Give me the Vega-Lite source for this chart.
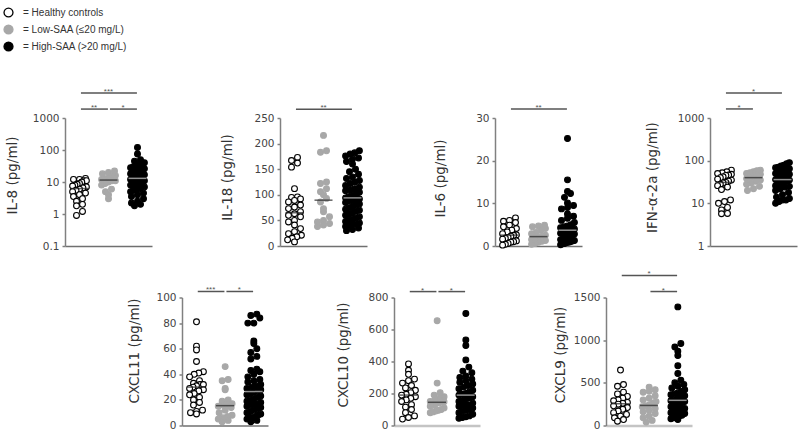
{
  "$schema": "https://vega.github.io/schema/vega-lite/v6.json",
  "background": "white",
  "padding": {"left": 3, "top": 7, "right": 2, "bottom": 2},
  "datasets": {
    "groups": [
      {"g": "HC", "group": "Healthy controls"},
      {"g": "Low", "group": "Low-SAA (≤20 mg/L)"},
      {"g": "High", "group": "High-SAA (>20 mg/L)"}
    ],
    "cyt": [
      {"c":"IL-8","g":"HC","v":13},{"c":"IL-8","g":"HC","v":12},{"c":"IL-8","g":"HC","v":12},{"c":"IL-8","g":"HC","v":11},{"c":"IL-8","g":"HC","v":11},{"c":"IL-8","g":"HC","v":10},{"c":"IL-8","g":"HC","v":9},{"c":"IL-8","g":"HC","v":8.5},{"c":"IL-8","g":"HC","v":8},{"c":"IL-8","g":"HC","v":7.5},{"c":"IL-8","g":"HC","v":7},{"c":"IL-8","g":"HC","v":6.5},{"c":"IL-8","g":"HC","v":6},{"c":"IL-8","g":"HC","v":5.5},{"c":"IL-8","g":"HC","v":5},{"c":"IL-8","g":"HC","v":4.5},{"c":"IL-8","g":"HC","v":4},{"c":"IL-8","g":"HC","v":3.5},{"c":"IL-8","g":"HC","v":3},{"c":"IL-8","g":"HC","v":2.5},{"c":"IL-8","g":"HC","v":2},{"c":"IL-8","g":"HC","v":1.8},{"c":"IL-8","g":"HC","v":1.2},{"c":"IL-8","g":"HC","v":0.9},
      {"c":"IL-8","g":"Low","v":22},{"c":"IL-8","g":"Low","v":20},{"c":"IL-8","g":"Low","v":18},{"c":"IL-8","g":"Low","v":16},{"c":"IL-8","g":"Low","v":15},{"c":"IL-8","g":"Low","v":14},{"c":"IL-8","g":"Low","v":13},{"c":"IL-8","g":"Low","v":12},{"c":"IL-8","g":"Low","v":12},{"c":"IL-8","g":"Low","v":11},{"c":"IL-8","g":"Low","v":11},{"c":"IL-8","g":"Low","v":10},{"c":"IL-8","g":"Low","v":9},{"c":"IL-8","g":"Low","v":8},{"c":"IL-8","g":"Low","v":6},{"c":"IL-8","g":"Low","v":5},{"c":"IL-8","g":"Low","v":4},{"c":"IL-8","g":"Low","v":3},
      {"c":"IL-8","g":"High","v":120},{"c":"IL-8","g":"High","v":75},{"c":"IL-8","g":"High","v":50},{"c":"IL-8","g":"High","v":45},{"c":"IL-8","g":"High","v":40},{"c":"IL-8","g":"High","v":38},{"c":"IL-8","g":"High","v":35},{"c":"IL-8","g":"High","v":32},{"c":"IL-8","g":"High","v":30},{"c":"IL-8","g":"High","v":28},{"c":"IL-8","g":"High","v":26},{"c":"IL-8","g":"High","v":25},{"c":"IL-8","g":"High","v":24},{"c":"IL-8","g":"High","v":22},{"c":"IL-8","g":"High","v":21},{"c":"IL-8","g":"High","v":20},{"c":"IL-8","g":"High","v":19},{"c":"IL-8","g":"High","v":18},{"c":"IL-8","g":"High","v":17},{"c":"IL-8","g":"High","v":16},{"c":"IL-8","g":"High","v":15},{"c":"IL-8","g":"High","v":15},{"c":"IL-8","g":"High","v":14},{"c":"IL-8","g":"High","v":13},{"c":"IL-8","g":"High","v":13},{"c":"IL-8","g":"High","v":12},{"c":"IL-8","g":"High","v":12},{"c":"IL-8","g":"High","v":11},{"c":"IL-8","g":"High","v":11},{"c":"IL-8","g":"High","v":10},{"c":"IL-8","g":"High","v":10},{"c":"IL-8","g":"High","v":9},{"c":"IL-8","g":"High","v":9},{"c":"IL-8","g":"High","v":8},{"c":"IL-8","g":"High","v":8},{"c":"IL-8","g":"High","v":7},{"c":"IL-8","g":"High","v":7},{"c":"IL-8","g":"High","v":6},{"c":"IL-8","g":"High","v":6},{"c":"IL-8","g":"High","v":5.5},{"c":"IL-8","g":"High","v":5},{"c":"IL-8","g":"High","v":4.5},{"c":"IL-8","g":"High","v":4},{"c":"IL-8","g":"High","v":3.5},{"c":"IL-8","g":"High","v":3},{"c":"IL-8","g":"High","v":2.5},{"c":"IL-8","g":"High","v":2.2},{"c":"IL-8","g":"High","v":2},{"c":"IL-8","g":"High","v":1.8},
      {"c":"IL-18","g":"HC","v":173},{"c":"IL-18","g":"HC","v":167},{"c":"IL-18","g":"HC","v":162},{"c":"IL-18","g":"HC","v":154},{"c":"IL-18","g":"HC","v":112},{"c":"IL-18","g":"HC","v":96},{"c":"IL-18","g":"HC","v":95},{"c":"IL-18","g":"HC","v":92},{"c":"IL-18","g":"HC","v":89},{"c":"IL-18","g":"HC","v":86},{"c":"IL-18","g":"HC","v":80},{"c":"IL-18","g":"HC","v":76},{"c":"IL-18","g":"HC","v":73},{"c":"IL-18","g":"HC","v":67},{"c":"IL-18","g":"HC","v":63},{"c":"IL-18","g":"HC","v":60},{"c":"IL-18","g":"HC","v":57},{"c":"IL-18","g":"HC","v":50},{"c":"IL-18","g":"HC","v":47},{"c":"IL-18","g":"HC","v":41},{"c":"IL-18","g":"HC","v":34},{"c":"IL-18","g":"HC","v":28},{"c":"IL-18","g":"HC","v":24},{"c":"IL-18","g":"HC","v":21},{"c":"IL-18","g":"HC","v":18},{"c":"IL-18","g":"HC","v":15},{"c":"IL-18","g":"HC","v":12},{"c":"IL-18","g":"HC","v":8},
      {"c":"IL-18","g":"Low","v":216},{"c":"IL-18","g":"Low","v":186},{"c":"IL-18","g":"Low","v":183},{"c":"IL-18","g":"Low","v":125},{"c":"IL-18","g":"Low","v":122},{"c":"IL-18","g":"Low","v":112},{"c":"IL-18","g":"Low","v":106},{"c":"IL-18","g":"Low","v":100},{"c":"IL-18","g":"Low","v":93},{"c":"IL-18","g":"Low","v":86},{"c":"IL-18","g":"Low","v":73},{"c":"IL-18","g":"Low","v":67},{"c":"IL-18","g":"Low","v":57},{"c":"IL-18","g":"Low","v":50},{"c":"IL-18","g":"Low","v":47},{"c":"IL-18","g":"Low","v":44},{"c":"IL-18","g":"Low","v":41},{"c":"IL-18","g":"Low","v":38},
      {"c":"IL-18","g":"High","v":186},{"c":"IL-18","g":"High","v":182},{"c":"IL-18","g":"High","v":180},{"c":"IL-18","g":"High","v":176},{"c":"IL-18","g":"High","v":172},{"c":"IL-18","g":"High","v":170},{"c":"IL-18","g":"High","v":165},{"c":"IL-18","g":"High","v":160},{"c":"IL-18","g":"High","v":150},{"c":"IL-18","g":"High","v":145},{"c":"IL-18","g":"High","v":140},{"c":"IL-18","g":"High","v":135},{"c":"IL-18","g":"High","v":132},{"c":"IL-18","g":"High","v":128},{"c":"IL-18","g":"High","v":125},{"c":"IL-18","g":"High","v":122},{"c":"IL-18","g":"High","v":118},{"c":"IL-18","g":"High","v":115},{"c":"IL-18","g":"High","v":112},{"c":"IL-18","g":"High","v":110},{"c":"IL-18","g":"High","v":108},{"c":"IL-18","g":"High","v":105},{"c":"IL-18","g":"High","v":102},{"c":"IL-18","g":"High","v":100},{"c":"IL-18","g":"High","v":98},{"c":"IL-18","g":"High","v":96},{"c":"IL-18","g":"High","v":94},{"c":"IL-18","g":"High","v":92},{"c":"IL-18","g":"High","v":90},{"c":"IL-18","g":"High","v":88},{"c":"IL-18","g":"High","v":85},{"c":"IL-18","g":"High","v":82},{"c":"IL-18","g":"High","v":80},{"c":"IL-18","g":"High","v":77},{"c":"IL-18","g":"High","v":75},{"c":"IL-18","g":"High","v":72},{"c":"IL-18","g":"High","v":70},{"c":"IL-18","g":"High","v":68},{"c":"IL-18","g":"High","v":65},{"c":"IL-18","g":"High","v":62},{"c":"IL-18","g":"High","v":60},{"c":"IL-18","g":"High","v":57},{"c":"IL-18","g":"High","v":55},{"c":"IL-18","g":"High","v":52},{"c":"IL-18","g":"High","v":50},{"c":"IL-18","g":"High","v":48},{"c":"IL-18","g":"High","v":45},{"c":"IL-18","g":"High","v":43},{"c":"IL-18","g":"High","v":40},{"c":"IL-18","g":"High","v":38},{"c":"IL-18","g":"High","v":35},{"c":"IL-18","g":"High","v":32},{"c":"IL-18","g":"High","v":30},
      {"c":"IL-6","g":"HC","v":6.6},{"c":"IL-6","g":"HC","v":6.0},{"c":"IL-6","g":"HC","v":5.8},{"c":"IL-6","g":"HC","v":5.5},{"c":"IL-6","g":"HC","v":4.9},{"c":"IL-6","g":"HC","v":4.5},{"c":"IL-6","g":"HC","v":4.1},{"c":"IL-6","g":"HC","v":3.7},{"c":"IL-6","g":"HC","v":3.3},{"c":"IL-6","g":"HC","v":2.9},{"c":"IL-6","g":"HC","v":2.6},{"c":"IL-6","g":"HC","v":2.5},{"c":"IL-6","g":"HC","v":2.3},{"c":"IL-6","g":"HC","v":2.0},{"c":"IL-6","g":"HC","v":1.8},{"c":"IL-6","g":"HC","v":1.6},{"c":"IL-6","g":"HC","v":1.2},{"c":"IL-6","g":"HC","v":1.0},{"c":"IL-6","g":"HC","v":0.9},{"c":"IL-6","g":"HC","v":0.6},{"c":"IL-6","g":"HC","v":0.4},{"c":"IL-6","g":"HC","v":0.2},
      {"c":"IL-6","g":"Low","v":4.9},{"c":"IL-6","g":"Low","v":4.7},{"c":"IL-6","g":"Low","v":4.5},{"c":"IL-6","g":"Low","v":4.1},{"c":"IL-6","g":"Low","v":3.7},{"c":"IL-6","g":"Low","v":3.2},{"c":"IL-6","g":"Low","v":2.9},{"c":"IL-6","g":"Low","v":2.5},{"c":"IL-6","g":"Low","v":2.3},{"c":"IL-6","g":"Low","v":2.1},{"c":"IL-6","g":"Low","v":2.0},{"c":"IL-6","g":"Low","v":1.8},{"c":"IL-6","g":"Low","v":1.5},{"c":"IL-6","g":"Low","v":1.3},{"c":"IL-6","g":"Low","v":1.1},{"c":"IL-6","g":"Low","v":0.9},{"c":"IL-6","g":"Low","v":0.6},{"c":"IL-6","g":"Low","v":0.4},
      {"c":"IL-6","g":"High","v":25.2},{"c":"IL-6","g":"High","v":15.5},{"c":"IL-6","g":"High","v":12.8},{"c":"IL-6","g":"High","v":12.3},{"c":"IL-6","g":"High","v":11.4},{"c":"IL-6","g":"High","v":10.1},{"c":"IL-6","g":"High","v":9.5},{"c":"IL-6","g":"High","v":9.0},{"c":"IL-6","g":"High","v":8.7},{"c":"IL-6","g":"High","v":7.5},{"c":"IL-6","g":"High","v":7.0},{"c":"IL-6","g":"High","v":6.5},{"c":"IL-6","g":"High","v":6.0},{"c":"IL-6","g":"High","v":5.5},{"c":"IL-6","g":"High","v":5.0},{"c":"IL-6","g":"High","v":4.7},{"c":"IL-6","g":"High","v":4.5},{"c":"IL-6","g":"High","v":4.3},{"c":"IL-6","g":"High","v":4.0},{"c":"IL-6","g":"High","v":3.7},{"c":"IL-6","g":"High","v":3.5},{"c":"IL-6","g":"High","v":3.2},{"c":"IL-6","g":"High","v":3.0},{"c":"IL-6","g":"High","v":2.8},{"c":"IL-6","g":"High","v":2.5},{"c":"IL-6","g":"High","v":2.3},{"c":"IL-6","g":"High","v":2.1},{"c":"IL-6","g":"High","v":2.0},{"c":"IL-6","g":"High","v":1.8},{"c":"IL-6","g":"High","v":1.6},{"c":"IL-6","g":"High","v":1.5},{"c":"IL-6","g":"High","v":1.3},{"c":"IL-6","g":"High","v":1.2},{"c":"IL-6","g":"High","v":1.0},{"c":"IL-6","g":"High","v":0.9},{"c":"IL-6","g":"High","v":0.8},{"c":"IL-6","g":"High","v":0.6},{"c":"IL-6","g":"High","v":0.5},{"c":"IL-6","g":"High","v":0.3},
      {"c":"IFN","g":"HC","v":60},{"c":"IFN","g":"HC","v":55},{"c":"IFN","g":"HC","v":52},{"c":"IFN","g":"HC","v":50},{"c":"IFN","g":"HC","v":48},{"c":"IFN","g":"HC","v":46},{"c":"IFN","g":"HC","v":45},{"c":"IFN","g":"HC","v":42},{"c":"IFN","g":"HC","v":40},{"c":"IFN","g":"HC","v":37},{"c":"IFN","g":"HC","v":35},{"c":"IFN","g":"HC","v":33},{"c":"IFN","g":"HC","v":31},{"c":"IFN","g":"HC","v":30},{"c":"IFN","g":"HC","v":28},{"c":"IFN","g":"HC","v":26},{"c":"IFN","g":"HC","v":24},{"c":"IFN","g":"HC","v":21},{"c":"IFN","g":"HC","v":12},{"c":"IFN","g":"HC","v":11},{"c":"IFN","g":"HC","v":10},{"c":"IFN","g":"HC","v":8},{"c":"IFN","g":"HC","v":7},{"c":"IFN","g":"HC","v":5.8},{"c":"IFN","g":"HC","v":5.7},
      {"c":"IFN","g":"Low","v":60},{"c":"IFN","g":"Low","v":58},{"c":"IFN","g":"Low","v":55},{"c":"IFN","g":"Low","v":52},{"c":"IFN","g":"Low","v":50},{"c":"IFN","g":"Low","v":48},{"c":"IFN","g":"Low","v":45},{"c":"IFN","g":"Low","v":42},{"c":"IFN","g":"Low","v":40},{"c":"IFN","g":"Low","v":38},{"c":"IFN","g":"Low","v":35},{"c":"IFN","g":"Low","v":33},{"c":"IFN","g":"Low","v":30},{"c":"IFN","g":"Low","v":28},{"c":"IFN","g":"Low","v":25},{"c":"IFN","g":"Low","v":22},{"c":"IFN","g":"Low","v":20},
      {"c":"IFN","g":"High","v":90},{"c":"IFN","g":"High","v":85},{"c":"IFN","g":"High","v":78},{"c":"IFN","g":"High","v":75},{"c":"IFN","g":"High","v":70},{"c":"IFN","g":"High","v":68},{"c":"IFN","g":"High","v":65},{"c":"IFN","g":"High","v":62},{"c":"IFN","g":"High","v":60},{"c":"IFN","g":"High","v":58},{"c":"IFN","g":"High","v":55},{"c":"IFN","g":"High","v":52},{"c":"IFN","g":"High","v":50},{"c":"IFN","g":"High","v":48},{"c":"IFN","g":"High","v":46},{"c":"IFN","g":"High","v":45},{"c":"IFN","g":"High","v":43},{"c":"IFN","g":"High","v":42},{"c":"IFN","g":"High","v":40},{"c":"IFN","g":"High","v":38},{"c":"IFN","g":"High","v":37},{"c":"IFN","g":"High","v":36},{"c":"IFN","g":"High","v":35},{"c":"IFN","g":"High","v":34},{"c":"IFN","g":"High","v":33},{"c":"IFN","g":"High","v":32},{"c":"IFN","g":"High","v":30},{"c":"IFN","g":"High","v":29},{"c":"IFN","g":"High","v":28},{"c":"IFN","g":"High","v":27},{"c":"IFN","g":"High","v":26},{"c":"IFN","g":"High","v":25},{"c":"IFN","g":"High","v":24},{"c":"IFN","g":"High","v":22},{"c":"IFN","g":"High","v":20},{"c":"IFN","g":"High","v":18},{"c":"IFN","g":"High","v":16},{"c":"IFN","g":"High","v":14},{"c":"IFN","g":"High","v":13},{"c":"IFN","g":"High","v":12},{"c":"IFN","g":"High","v":12},{"c":"IFN","g":"High","v":11},{"c":"IFN","g":"High","v":10},
      {"c":"CXCL11","g":"HC","v":81},{"c":"CXCL11","g":"HC","v":62},{"c":"CXCL11","g":"HC","v":59},{"c":"CXCL11","g":"HC","v":50},{"c":"CXCL11","g":"HC","v":42},{"c":"CXCL11","g":"HC","v":41},{"c":"CXCL11","g":"HC","v":40},{"c":"CXCL11","g":"HC","v":38},{"c":"CXCL11","g":"HC","v":35},{"c":"CXCL11","g":"HC","v":33},{"c":"CXCL11","g":"HC","v":32},{"c":"CXCL11","g":"HC","v":32},{"c":"CXCL11","g":"HC","v":31},{"c":"CXCL11","g":"HC","v":30},{"c":"CXCL11","g":"HC","v":29},{"c":"CXCL11","g":"HC","v":28},{"c":"CXCL11","g":"HC","v":27},{"c":"CXCL11","g":"HC","v":25},{"c":"CXCL11","g":"HC","v":24},{"c":"CXCL11","g":"HC","v":22},{"c":"CXCL11","g":"HC","v":20},{"c":"CXCL11","g":"HC","v":18},{"c":"CXCL11","g":"HC","v":16},{"c":"CXCL11","g":"HC","v":12},{"c":"CXCL11","g":"HC","v":11},{"c":"CXCL11","g":"HC","v":10},{"c":"CXCL11","g":"HC","v":9},
      {"c":"CXCL11","g":"Low","v":46},{"c":"CXCL11","g":"Low","v":36},{"c":"CXCL11","g":"Low","v":35},{"c":"CXCL11","g":"Low","v":29},{"c":"CXCL11","g":"Low","v":28},{"c":"CXCL11","g":"Low","v":20},{"c":"CXCL11","g":"Low","v":19},{"c":"CXCL11","g":"Low","v":17},{"c":"CXCL11","g":"Low","v":16},{"c":"CXCL11","g":"Low","v":16},{"c":"CXCL11","g":"Low","v":15},{"c":"CXCL11","g":"Low","v":14},{"c":"CXCL11","g":"Low","v":12},{"c":"CXCL11","g":"Low","v":10},{"c":"CXCL11","g":"Low","v":8},{"c":"CXCL11","g":"Low","v":7},{"c":"CXCL11","g":"Low","v":6},{"c":"CXCL11","g":"Low","v":5},{"c":"CXCL11","g":"Low","v":4},{"c":"CXCL11","g":"Low","v":3},
      {"c":"CXCL11","g":"High","v":87},{"c":"CXCL11","g":"High","v":86},{"c":"CXCL11","g":"High","v":84},{"c":"CXCL11","g":"High","v":80},{"c":"CXCL11","g":"High","v":80},{"c":"CXCL11","g":"High","v":66},{"c":"CXCL11","g":"High","v":64},{"c":"CXCL11","g":"High","v":60},{"c":"CXCL11","g":"High","v":57},{"c":"CXCL11","g":"High","v":54},{"c":"CXCL11","g":"High","v":52},{"c":"CXCL11","g":"High","v":44},{"c":"CXCL11","g":"High","v":43},{"c":"CXCL11","g":"High","v":42},{"c":"CXCL11","g":"High","v":40},{"c":"CXCL11","g":"High","v":38},{"c":"CXCL11","g":"High","v":36},{"c":"CXCL11","g":"High","v":35},{"c":"CXCL11","g":"High","v":34},{"c":"CXCL11","g":"High","v":32},{"c":"CXCL11","g":"High","v":31},{"c":"CXCL11","g":"High","v":30},{"c":"CXCL11","g":"High","v":29},{"c":"CXCL11","g":"High","v":28},{"c":"CXCL11","g":"High","v":27},{"c":"CXCL11","g":"High","v":26},{"c":"CXCL11","g":"High","v":25},{"c":"CXCL11","g":"High","v":24},{"c":"CXCL11","g":"High","v":23},{"c":"CXCL11","g":"High","v":22},{"c":"CXCL11","g":"High","v":21},{"c":"CXCL11","g":"High","v":20},{"c":"CXCL11","g":"High","v":19},{"c":"CXCL11","g":"High","v":18},{"c":"CXCL11","g":"High","v":17},{"c":"CXCL11","g":"High","v":16},{"c":"CXCL11","g":"High","v":15},{"c":"CXCL11","g":"High","v":14},{"c":"CXCL11","g":"High","v":13},{"c":"CXCL11","g":"High","v":12},{"c":"CXCL11","g":"High","v":11},{"c":"CXCL11","g":"High","v":10},{"c":"CXCL11","g":"High","v":9},{"c":"CXCL11","g":"High","v":8},{"c":"CXCL11","g":"High","v":7},{"c":"CXCL11","g":"High","v":6},{"c":"CXCL11","g":"High","v":6},{"c":"CXCL11","g":"High","v":5},{"c":"CXCL11","g":"High","v":4},{"c":"CXCL11","g":"High","v":3},
      {"c":"CXCL10","g":"HC","v":385},{"c":"CXCL10","g":"HC","v":345},{"c":"CXCL10","g":"HC","v":320},{"c":"CXCL10","g":"HC","v":290},{"c":"CXCL10","g":"HC","v":280},{"c":"CXCL10","g":"HC","v":265},{"c":"CXCL10","g":"HC","v":250},{"c":"CXCL10","g":"HC","v":235},{"c":"CXCL10","g":"HC","v":220},{"c":"CXCL10","g":"HC","v":205},{"c":"CXCL10","g":"HC","v":195},{"c":"CXCL10","g":"HC","v":190},{"c":"CXCL10","g":"HC","v":180},{"c":"CXCL10","g":"HC","v":170},{"c":"CXCL10","g":"HC","v":160},{"c":"CXCL10","g":"HC","v":150},{"c":"CXCL10","g":"HC","v":130},{"c":"CXCL10","g":"HC","v":115},{"c":"CXCL10","g":"HC","v":100},{"c":"CXCL10","g":"HC","v":80},{"c":"CXCL10","g":"HC","v":60},{"c":"CXCL10","g":"HC","v":50},{"c":"CXCL10","g":"HC","v":40},
      {"c":"CXCL10","g":"Low","v":655},{"c":"CXCL10","g":"Low","v":265},{"c":"CXCL10","g":"Low","v":205},{"c":"CXCL10","g":"Low","v":190},{"c":"CXCL10","g":"Low","v":180},{"c":"CXCL10","g":"Low","v":170},{"c":"CXCL10","g":"Low","v":160},{"c":"CXCL10","g":"Low","v":150},{"c":"CXCL10","g":"Low","v":148},{"c":"CXCL10","g":"Low","v":142},{"c":"CXCL10","g":"Low","v":130},{"c":"CXCL10","g":"Low","v":120},{"c":"CXCL10","g":"Low","v":110},{"c":"CXCL10","g":"Low","v":100},{"c":"CXCL10","g":"Low","v":95},{"c":"CXCL10","g":"Low","v":90},{"c":"CXCL10","g":"Low","v":85},{"c":"CXCL10","g":"Low","v":80},
      {"c":"CXCL10","g":"High","v":700},{"c":"CXCL10","g":"High","v":535},{"c":"CXCL10","g":"High","v":500},{"c":"CXCL10","g":"High","v":410},{"c":"CXCL10","g":"High","v":365},{"c":"CXCL10","g":"High","v":340},{"c":"CXCL10","g":"High","v":330},{"c":"CXCL10","g":"High","v":310},{"c":"CXCL10","g":"High","v":300},{"c":"CXCL10","g":"High","v":290},{"c":"CXCL10","g":"High","v":280},{"c":"CXCL10","g":"High","v":270},{"c":"CXCL10","g":"High","v":260},{"c":"CXCL10","g":"High","v":250},{"c":"CXCL10","g":"High","v":240},{"c":"CXCL10","g":"High","v":230},{"c":"CXCL10","g":"High","v":220},{"c":"CXCL10","g":"High","v":210},{"c":"CXCL10","g":"High","v":200},{"c":"CXCL10","g":"High","v":195},{"c":"CXCL10","g":"High","v":190},{"c":"CXCL10","g":"High","v":180},{"c":"CXCL10","g":"High","v":175},{"c":"CXCL10","g":"High","v":170},{"c":"CXCL10","g":"High","v":160},{"c":"CXCL10","g":"High","v":155},{"c":"CXCL10","g":"High","v":150},{"c":"CXCL10","g":"High","v":140},{"c":"CXCL10","g":"High","v":130},{"c":"CXCL10","g":"High","v":125},{"c":"CXCL10","g":"High","v":120},{"c":"CXCL10","g":"High","v":110},{"c":"CXCL10","g":"High","v":100},{"c":"CXCL10","g":"High","v":95},{"c":"CXCL10","g":"High","v":90},{"c":"CXCL10","g":"High","v":80},{"c":"CXCL10","g":"High","v":70},{"c":"CXCL10","g":"High","v":60},{"c":"CXCL10","g":"High","v":55},{"c":"CXCL10","g":"High","v":50},{"c":"CXCL10","g":"High","v":45},
      {"c":"CXCL9","g":"HC","v":650},{"c":"CXCL9","g":"HC","v":480},{"c":"CXCL9","g":"HC","v":460},{"c":"CXCL9","g":"HC","v":390},{"c":"CXCL9","g":"HC","v":370},{"c":"CXCL9","g":"HC","v":340},{"c":"CXCL9","g":"HC","v":320},{"c":"CXCL9","g":"HC","v":300},{"c":"CXCL9","g":"HC","v":290},{"c":"CXCL9","g":"HC","v":270},{"c":"CXCL9","g":"HC","v":260},{"c":"CXCL9","g":"HC","v":250},{"c":"CXCL9","g":"HC","v":230},{"c":"CXCL9","g":"HC","v":210},{"c":"CXCL9","g":"HC","v":190},{"c":"CXCL9","g":"HC","v":170},{"c":"CXCL9","g":"HC","v":150},{"c":"CXCL9","g":"HC","v":130},{"c":"CXCL9","g":"HC","v":110},{"c":"CXCL9","g":"HC","v":90},{"c":"CXCL9","g":"HC","v":70},{"c":"CXCL9","g":"HC","v":50},
      {"c":"CXCL9","g":"Low","v":450},{"c":"CXCL9","g":"Low","v":420},{"c":"CXCL9","g":"Low","v":400},{"c":"CXCL9","g":"Low","v":390},{"c":"CXCL9","g":"Low","v":350},{"c":"CXCL9","g":"Low","v":320},{"c":"CXCL9","g":"Low","v":300},{"c":"CXCL9","g":"Low","v":280},{"c":"CXCL9","g":"Low","v":260},{"c":"CXCL9","g":"Low","v":240},{"c":"CXCL9","g":"Low","v":230},{"c":"CXCL9","g":"Low","v":220},{"c":"CXCL9","g":"Low","v":200},{"c":"CXCL9","g":"Low","v":180},{"c":"CXCL9","g":"Low","v":160},{"c":"CXCL9","g":"Low","v":140},{"c":"CXCL9","g":"Low","v":110},{"c":"CXCL9","g":"Low","v":90},{"c":"CXCL9","g":"Low","v":60},{"c":"CXCL9","g":"Low","v":40},
      {"c":"CXCL9","g":"High","v":1390},{"c":"CXCL9","g":"High","v":960},{"c":"CXCL9","g":"High","v":920},{"c":"CXCL9","g":"High","v":870},{"c":"CXCL9","g":"High","v":820},{"c":"CXCL9","g":"High","v":700},{"c":"CXCL9","g":"High","v":610},{"c":"CXCL9","g":"High","v":530},{"c":"CXCL9","g":"High","v":500},{"c":"CXCL9","g":"High","v":480},{"c":"CXCL9","g":"High","v":460},{"c":"CXCL9","g":"High","v":440},{"c":"CXCL9","g":"High","v":420},{"c":"CXCL9","g":"High","v":400},{"c":"CXCL9","g":"High","v":380},{"c":"CXCL9","g":"High","v":370},{"c":"CXCL9","g":"High","v":360},{"c":"CXCL9","g":"High","v":350},{"c":"CXCL9","g":"High","v":340},{"c":"CXCL9","g":"High","v":320},{"c":"CXCL9","g":"High","v":300},{"c":"CXCL9","g":"High","v":290},{"c":"CXCL9","g":"High","v":280},{"c":"CXCL9","g":"High","v":270},{"c":"CXCL9","g":"High","v":260},{"c":"CXCL9","g":"High","v":250},{"c":"CXCL9","g":"High","v":240},{"c":"CXCL9","g":"High","v":230},{"c":"CXCL9","g":"High","v":220},{"c":"CXCL9","g":"High","v":200},{"c":"CXCL9","g":"High","v":190},{"c":"CXCL9","g":"High","v":180},{"c":"CXCL9","g":"High","v":170},{"c":"CXCL9","g":"High","v":160},{"c":"CXCL9","g":"High","v":150},{"c":"CXCL9","g":"High","v":140},{"c":"CXCL9","g":"High","v":120},{"c":"CXCL9","g":"High","v":110},{"c":"CXCL9","g":"High","v":100},{"c":"CXCL9","g":"High","v":90},{"c":"CXCL9","g":"High","v":80},{"c":"CXCL9","g":"High","v":70}
    ]
  },
  "columns": 1,
  "align": "none",
  "spacing": 17.5,
  "concat": [
    {
      "hconcat": [
        {
          "width": 87, "height": 128,
          "layer": [
            {
              "data": {"name": "cyt"},
              "transform": [
                {"filter": "datum.c === 'IL-8'"},
                {"lookup": "g", "from": {"data": {"name": "groups"}, "key": "g", "fields": ["group"]}},
                {"calculate": "floor((log(datum.v) / LN10 + 1) * 32 / 6)", "as": "bin"},
                {"window": [{"op": "row_number", "as": "r"}], "groupby": ["g", "bin"], "sort": [{"field": "v", "order": "ascending"}]},
                {"joinaggregate": [{"op": "count", "as": "n"}], "groupby": ["g", "bin"]},
                {"calculate": "(datum.r - (datum.n + 1) / 2) * min(1, 1.15 / max(0.5, (datum.n - 1) / 2))", "as": "off"}
              ],
              "mark": {"type": "circle", "size": 34, "strokeWidth": 1.1, "opacity": 1},
              "encoding": {
                "x": {"field": "g", "type": "nominal", "scale": {"type": "band", "domain": ["HC", "Low", "High"], "paddingInner": 0, "paddingOuter": 0}, "title": null},
                "xOffset": {"field": "off", "type": "quantitative", "scale": {"domain": [-1, 1], "range": [8.5, 20.5], "nice": false, "zero": false}},
                "y": {"field": "v", "type": "quantitative", "scale": {"type": "log", "domain": [0.1, 1000], "nice": false}, "title": "IL-8 (pg/ml)", "axis": {"values": [0.1, 1, 10, 100, 1000], "format": "~g", "titleX": -53, "titleY": 57}},
                "fill": {"field": "group", "type": "nominal", "scale": {"domain": ["Healthy controls", "Low-SAA (≤20 mg/L)", "High-SAA (>20 mg/L)"], "range": ["#ffffff", "#a8a8a8", "#000000"]}, "legend": {"orient": "none", "legendX": -62, "legendY": -111, "title": null, "labelExpr": "'= ' + datum.label"}},
                "stroke": {"field": "group", "type": "nominal", "scale": {"domain": ["Healthy controls", "Low-SAA (≤20 mg/L)", "High-SAA (>20 mg/L)"], "range": ["#000000", "#a8a8a8", "#000000"]}, "legend": {"orient": "none", "legendX": -62, "legendY": -111, "title": null, "labelExpr": "'= ' + datum.label"}}
              }
            },
            {
              "data": {"name": "cyt"},
              "transform": [{"filter": "datum.c === 'IL-8'"}, {"aggregate": [{"op": "median", "field": "v", "as": "med"}], "groupby": ["g"]}],
              "mark": {"type": "tick", "size": 18, "thickness": 1.5},
              "encoding": {
                "x": {"field": "g", "type": "nominal", "scale": {"type": "band", "domain": ["HC", "Low", "High"], "paddingInner": 0, "paddingOuter": 0}, "title": null},
                "y": {"field": "med", "type": "quantitative", "scale": {"type": "log", "domain": [0.1, 1000], "nice": false}, "title": "IL-8 (pg/ml)", "axis": {"values": [0.1, 1, 10, 100, 1000], "format": "~g", "titleX": -53, "titleY": 57}},
                "color": {"field": "g", "type": "nominal", "scale": {"domain": ["HC", "Low", "High"], "range": ["#222222", "#222222", "#d0d0d0"]}, "legend": null}
              }
            },
            {
              "data": {"values": [{"g1": "HC", "g2": "High", "y": 6000, "lab": "***", "span": "wide"}, {"g1": "HC", "g2": "Low", "y": 1900, "lab": "**", "span": "adj"}, {"g1": "Low", "g2": "High", "y": 1900, "lab": "*", "span": "adj"}]},
              "mark": {"type": "rule", "strokeWidth": 1.5, "color": "#555555"},
              "encoding": {
                "x": {"field": "g1", "type": "nominal", "bandPosition": 0.55, "scale": {"type": "band", "domain": ["HC", "Low", "High"], "paddingInner": 0, "paddingOuter": 0}, "title": null},
                "x2": {"field": "g2", "bandPosition": 0.48},
                "y": {"field": "y", "type": "quantitative", "scale": {"type": "log", "domain": [0.1, 1000], "nice": false}, "title": "IL-8 (pg/ml)", "axis": {"values": [0.1, 1, 10, 100, 1000], "format": "~g", "titleX": -53, "titleY": 57}}
              }
            },
            {
              "data": {"values": [{"g1": "HC", "g2": "Low", "y": 1900, "lab": "**", "span": "adj"}, {"g1": "Low", "g2": "High", "y": 1900, "lab": "*", "span": "adj"}]},
              "mark": {"type": "text", "fontSize": 8, "font": "Liberation Sans", "color": "#555555", "baseline": "alphabetic", "dy": 1},
              "encoding": {
                "x": {"field": "g1", "type": "nominal", "bandPosition": 1, "scale": {"type": "band", "domain": ["HC", "Low", "High"], "paddingInner": 0, "paddingOuter": 0}, "title": null},
                "y": {"field": "y", "type": "quantitative", "scale": {"type": "log", "domain": [0.1, 1000], "nice": false}, "title": "IL-8 (pg/ml)", "axis": {"values": [0.1, 1, 10, 100, 1000], "format": "~g", "titleX": -53, "titleY": 57}},
                "text": {"field": "lab"}
              }
            },
            {
              "data": {"values": [{"g1": "HC", "g2": "High", "y": 6000, "lab": "***", "span": "wide"}]},
              "mark": {"type": "text", "fontSize": 8, "font": "Liberation Sans", "color": "#555555", "baseline": "alphabetic", "dy": 1},
              "encoding": {
                "x": {"field": "g1", "type": "nominal", "bandPosition": 1.5, "scale": {"type": "band", "domain": ["HC", "Low", "High"], "paddingInner": 0, "paddingOuter": 0}, "title": null},
                "y": {"field": "y", "type": "quantitative", "scale": {"type": "log", "domain": [0.1, 1000], "nice": false}, "title": "IL-8 (pg/ml)", "axis": {"values": [0.1, 1, 10, 100, 1000], "format": "~g", "titleX": -53, "titleY": 57}},
                "text": {"field": "lab"}
              }
            }
          ]
        },
        {
          "width": 87, "height": 128,
          "layer": [
            {
              "data": {"name": "cyt"},
              "transform": [
                {"filter": "datum.c === 'IL-18'"},
                {"lookup": "g", "from": {"data": {"name": "groups"}, "key": "g", "fields": ["group"]}},
                {"calculate": "floor(datum.v * 128 / 250 / 6)", "as": "bin"},
                {"window": [{"op": "row_number", "as": "r"}], "groupby": ["g", "bin"], "sort": [{"field": "v", "order": "ascending"}]},
                {"joinaggregate": [{"op": "count", "as": "n"}], "groupby": ["g", "bin"]},
                {"calculate": "(datum.r - (datum.n + 1) / 2) * min(1, 1.15 / max(0.5, (datum.n - 1) / 2))", "as": "off"}
              ],
              "mark": {"type": "circle", "size": 34, "strokeWidth": 1.1, "opacity": 1},
              "encoding": {
                "x": {"field": "g", "type": "nominal", "scale": {"type": "band", "domain": ["HC", "Low", "High"], "paddingInner": 0, "paddingOuter": 0}, "title": null},
                "xOffset": {"field": "off", "type": "quantitative", "scale": {"domain": [-1, 1], "range": [8.5, 20.5], "nice": false, "zero": false}},
                "y": {"field": "v", "type": "quantitative", "scale": {"domain": [0, 250], "nice": false}, "title": "IL-18 (pg/ml)", "axis": {"values": [0, 50, 100, 150, 200, 250], "format": "d", "titleX": -53, "titleY": 59}},
                "fill": {"field": "group", "type": "nominal", "scale": {"domain": ["Healthy controls", "Low-SAA (≤20 mg/L)", "High-SAA (>20 mg/L)"], "range": ["#ffffff", "#a8a8a8", "#000000"]}, "legend": null},
                "stroke": {"field": "group", "type": "nominal", "scale": {"domain": ["Healthy controls", "Low-SAA (≤20 mg/L)", "High-SAA (>20 mg/L)"], "range": ["#000000", "#a8a8a8", "#000000"]}, "legend": null}
              }
            },
            {
              "data": {"name": "cyt"},
              "transform": [{"filter": "datum.c === 'IL-18'"}, {"aggregate": [{"op": "median", "field": "v", "as": "med"}], "groupby": ["g"]}],
              "mark": {"type": "tick", "size": 18, "thickness": 1.5},
              "encoding": {
                "x": {"field": "g", "type": "nominal", "scale": {"type": "band", "domain": ["HC", "Low", "High"], "paddingInner": 0, "paddingOuter": 0}, "title": null},
                "y": {"field": "med", "type": "quantitative", "scale": {"domain": [0, 250], "nice": false}, "title": "IL-18 (pg/ml)", "axis": {"values": [0, 50, 100, 150, 200, 250], "format": "d", "titleX": -53, "titleY": 59}},
                "color": {"field": "g", "type": "nominal", "scale": {"domain": ["HC", "Low", "High"], "range": ["#222222", "#222222", "#d0d0d0"]}, "legend": null}
              }
            },
            {
              "data": {"values": [{"g1": "HC", "g2": "High", "y": 267, "lab": "**", "span": "wide"}]},
              "mark": {"type": "rule", "strokeWidth": 1.5, "color": "#555555"},
              "encoding": {
                "x": {"field": "g1", "type": "nominal", "bandPosition": 0.55, "scale": {"type": "band", "domain": ["HC", "Low", "High"], "paddingInner": 0, "paddingOuter": 0}, "title": null},
                "x2": {"field": "g2", "bandPosition": 0.48},
                "y": {"field": "y", "type": "quantitative", "scale": {"domain": [0, 250], "nice": false}, "title": "IL-18 (pg/ml)", "axis": {"values": [0, 50, 100, 150, 200, 250], "format": "d", "titleX": -53, "titleY": 59}}
              }
            },
            {
              "data": {"values": [{"g1": "HC", "g2": "High", "y": 267, "lab": "**", "span": "wide"}]},
              "mark": {"type": "text", "fontSize": 8, "font": "Liberation Sans", "color": "#555555", "baseline": "alphabetic", "dy": 1},
              "encoding": {
                "x": {"field": "g1", "type": "nominal", "bandPosition": 1.5, "scale": {"type": "band", "domain": ["HC", "Low", "High"], "paddingInner": 0, "paddingOuter": 0}, "title": null},
                "y": {"field": "y", "type": "quantitative", "scale": {"domain": [0, 250], "nice": false}, "title": "IL-18 (pg/ml)", "axis": {"values": [0, 50, 100, 150, 200, 250], "format": "d", "titleX": -53, "titleY": 59}},
                "text": {"field": "lab"}
              }
            }
          ]
        },
        {
          "width": 87, "height": 128,
          "layer": [
            {
              "data": {"name": "cyt"},
              "transform": [
                {"filter": "datum.c === 'IL-6'"},
                {"lookup": "g", "from": {"data": {"name": "groups"}, "key": "g", "fields": ["group"]}},
                {"calculate": "floor(datum.v * 128 / 30 / 6)", "as": "bin"},
                {"window": [{"op": "row_number", "as": "r"}], "groupby": ["g", "bin"], "sort": [{"field": "v", "order": "ascending"}]},
                {"joinaggregate": [{"op": "count", "as": "n"}], "groupby": ["g", "bin"]},
                {"calculate": "(datum.r - (datum.n + 1) / 2) * min(1, 1.15 / max(0.5, (datum.n - 1) / 2))", "as": "off"}
              ],
              "mark": {"type": "circle", "size": 34, "strokeWidth": 1.1, "opacity": 1},
              "encoding": {
                "x": {"field": "g", "type": "nominal", "scale": {"type": "band", "domain": ["HC", "Low", "High"], "paddingInner": 0, "paddingOuter": 0}, "title": null},
                "xOffset": {"field": "off", "type": "quantitative", "scale": {"domain": [-1, 1], "range": [8.5, 20.5], "nice": false, "zero": false}},
                "y": {"field": "v", "type": "quantitative", "scale": {"domain": [0, 30], "nice": false}, "title": "IL-6 (pg/ml)", "axis": {"values": [0, 10, 20, 30], "format": "d", "titleX": -55, "titleY": 60}},
                "fill": {"field": "group", "type": "nominal", "scale": {"domain": ["Healthy controls", "Low-SAA (≤20 mg/L)", "High-SAA (>20 mg/L)"], "range": ["#ffffff", "#a8a8a8", "#000000"]}, "legend": null},
                "stroke": {"field": "group", "type": "nominal", "scale": {"domain": ["Healthy controls", "Low-SAA (≤20 mg/L)", "High-SAA (>20 mg/L)"], "range": ["#000000", "#a8a8a8", "#000000"]}, "legend": null}
              }
            },
            {
              "data": {"name": "cyt"},
              "transform": [{"filter": "datum.c === 'IL-6'"}, {"aggregate": [{"op": "median", "field": "v", "as": "med"}], "groupby": ["g"]}],
              "mark": {"type": "tick", "size": 18, "thickness": 1.5},
              "encoding": {
                "x": {"field": "g", "type": "nominal", "scale": {"type": "band", "domain": ["HC", "Low", "High"], "paddingInner": 0, "paddingOuter": 0}, "title": null},
                "y": {"field": "med", "type": "quantitative", "scale": {"domain": [0, 30], "nice": false}, "title": "IL-6 (pg/ml)", "axis": {"values": [0, 10, 20, 30], "format": "d", "titleX": -55, "titleY": 60}},
                "color": {"field": "g", "type": "nominal", "scale": {"domain": ["HC", "Low", "High"], "range": ["#222222", "#222222", "#d0d0d0"]}, "legend": null}
              }
            },
            {
              "data": {"values": [{"g1": "HC", "g2": "High", "y": 32.1, "lab": "**", "span": "wide"}]},
              "mark": {"type": "rule", "strokeWidth": 1.5, "color": "#555555"},
              "encoding": {
                "x": {"field": "g1", "type": "nominal", "bandPosition": 0.55, "scale": {"type": "band", "domain": ["HC", "Low", "High"], "paddingInner": 0, "paddingOuter": 0}, "title": null},
                "x2": {"field": "g2", "bandPosition": 0.48},
                "y": {"field": "y", "type": "quantitative", "scale": {"domain": [0, 30], "nice": false}, "title": "IL-6 (pg/ml)", "axis": {"values": [0, 10, 20, 30], "format": "d", "titleX": -55, "titleY": 60}}
              }
            },
            {
              "data": {"values": [{"g1": "HC", "g2": "High", "y": 32.1, "lab": "**", "span": "wide"}]},
              "mark": {"type": "text", "fontSize": 8, "font": "Liberation Sans", "color": "#555555", "baseline": "alphabetic", "dy": 1},
              "encoding": {
                "x": {"field": "g1", "type": "nominal", "bandPosition": 1.5, "scale": {"type": "band", "domain": ["HC", "Low", "High"], "paddingInner": 0, "paddingOuter": 0}, "title": null},
                "y": {"field": "y", "type": "quantitative", "scale": {"domain": [0, 30], "nice": false}, "title": "IL-6 (pg/ml)", "axis": {"values": [0, 10, 20, 30], "format": "d", "titleX": -55, "titleY": 60}},
                "text": {"field": "lab"}
              }
            }
          ]
        },
        {
          "width": 87, "height": 128,
          "layer": [
            {
              "data": {"name": "cyt"},
              "transform": [
                {"filter": "datum.c === 'IFN'"},
                {"lookup": "g", "from": {"data": {"name": "groups"}, "key": "g", "fields": ["group"]}},
                {"calculate": "floor(log(datum.v) / LN10 * 128 / 3 / 6)", "as": "bin"},
                {"window": [{"op": "row_number", "as": "r"}], "groupby": ["g", "bin"], "sort": [{"field": "v", "order": "ascending"}]},
                {"joinaggregate": [{"op": "count", "as": "n"}], "groupby": ["g", "bin"]},
                {"calculate": "(datum.r - (datum.n + 1) / 2) * min(1, 1.15 / max(0.5, (datum.n - 1) / 2))", "as": "off"}
              ],
              "mark": {"type": "circle", "size": 34, "strokeWidth": 1.1, "opacity": 1},
              "encoding": {
                "x": {"field": "g", "type": "nominal", "scale": {"type": "band", "domain": ["HC", "Low", "High"], "paddingInner": 0, "paddingOuter": 0}, "title": null},
                "xOffset": {"field": "off", "type": "quantitative", "scale": {"domain": [-1, 1], "range": [8.5, 20.5], "nice": false, "zero": false}},
                "y": {"field": "v", "type": "quantitative", "scale": {"type": "log", "domain": [1, 1000], "nice": false}, "title": "IFN-α-2a (pg/ml)", "axis": {"values": [1, 10, 100, 1000], "format": "~g", "titleX": -58, "titleY": 59}},
                "fill": {"field": "group", "type": "nominal", "scale": {"domain": ["Healthy controls", "Low-SAA (≤20 mg/L)", "High-SAA (>20 mg/L)"], "range": ["#ffffff", "#a8a8a8", "#000000"]}, "legend": null},
                "stroke": {"field": "group", "type": "nominal", "scale": {"domain": ["Healthy controls", "Low-SAA (≤20 mg/L)", "High-SAA (>20 mg/L)"], "range": ["#000000", "#a8a8a8", "#000000"]}, "legend": null}
              }
            },
            {
              "data": {"name": "cyt"},
              "transform": [{"filter": "datum.c === 'IFN'"}, {"aggregate": [{"op": "median", "field": "v", "as": "med"}], "groupby": ["g"]}],
              "mark": {"type": "tick", "size": 18, "thickness": 1.5},
              "encoding": {
                "x": {"field": "g", "type": "nominal", "scale": {"type": "band", "domain": ["HC", "Low", "High"], "paddingInner": 0, "paddingOuter": 0}, "title": null},
                "y": {"field": "med", "type": "quantitative", "scale": {"type": "log", "domain": [1, 1000], "nice": false}, "title": "IFN-α-2a (pg/ml)", "axis": {"values": [1, 10, 100, 1000], "format": "~g", "titleX": -58, "titleY": 59}},
                "color": {"field": "g", "type": "nominal", "scale": {"domain": ["HC", "Low", "High"], "range": ["#222222", "#222222", "#d0d0d0"]}, "legend": null}
              }
            },
            {
              "data": {"values": [{"g1": "HC", "g2": "High", "y": 3850, "lab": "*", "span": "wide"}, {"g1": "HC", "g2": "Low", "y": 1630, "lab": "*", "span": "adj"}]},
              "mark": {"type": "rule", "strokeWidth": 1.5, "color": "#555555"},
              "encoding": {
                "x": {"field": "g1", "type": "nominal", "bandPosition": 0.55, "scale": {"type": "band", "domain": ["HC", "Low", "High"], "paddingInner": 0, "paddingOuter": 0}, "title": null},
                "x2": {"field": "g2", "bandPosition": 0.48},
                "y": {"field": "y", "type": "quantitative", "scale": {"type": "log", "domain": [1, 1000], "nice": false}, "title": "IFN-α-2a (pg/ml)", "axis": {"values": [1, 10, 100, 1000], "format": "~g", "titleX": -58, "titleY": 59}}
              }
            },
            {
              "data": {"values": [{"g1": "HC", "g2": "Low", "y": 1630, "lab": "*", "span": "adj"}]},
              "mark": {"type": "text", "fontSize": 8, "font": "Liberation Sans", "color": "#555555", "baseline": "alphabetic", "dy": 1},
              "encoding": {
                "x": {"field": "g1", "type": "nominal", "bandPosition": 1, "scale": {"type": "band", "domain": ["HC", "Low", "High"], "paddingInner": 0, "paddingOuter": 0}, "title": null},
                "y": {"field": "y", "type": "quantitative", "scale": {"type": "log", "domain": [1, 1000], "nice": false}, "title": "IFN-α-2a (pg/ml)", "axis": {"values": [1, 10, 100, 1000], "format": "~g", "titleX": -58, "titleY": 59}},
                "text": {"field": "lab"}
              }
            },
            {
              "data": {"values": [{"g1": "HC", "g2": "High", "y": 3850, "lab": "*", "span": "wide"}]},
              "mark": {"type": "text", "fontSize": 8, "font": "Liberation Sans", "color": "#555555", "baseline": "alphabetic", "dy": 1},
              "encoding": {
                "x": {"field": "g1", "type": "nominal", "bandPosition": 1.5, "scale": {"type": "band", "domain": ["HC", "Low", "High"], "paddingInner": 0, "paddingOuter": 0}, "title": null},
                "y": {"field": "y", "type": "quantitative", "scale": {"type": "log", "domain": [1, 1000], "nice": false}, "title": "IFN-α-2a (pg/ml)", "axis": {"values": [1, 10, 100, 1000], "format": "~g", "titleX": -58, "titleY": 59}},
                "text": {"field": "lab"}
              }
            }
          ]
        }
      ],
      "spacing": 128,
      "bounds": "flush"
    },
    {
      "hconcat": [
        {
          "width": 1, "height": 128,
          "data": {"values": [{"k": 1}]},
          "mark": {"type": "point", "opacity": 0},
          "encoding": {}
        },
        {
          "width": 96, "height": 128,
          "layer": [
            {
              "data": {"name": "cyt"},
              "transform": [
                {"filter": "datum.c === 'CXCL11'"},
                {"lookup": "g", "from": {"data": {"name": "groups"}, "key": "g", "fields": ["group"]}},
                {"calculate": "floor(datum.v * 128 / 100 / 6)", "as": "bin"},
                {"window": [{"op": "row_number", "as": "r"}], "groupby": ["g", "bin"], "sort": [{"field": "v", "order": "ascending"}]},
                {"joinaggregate": [{"op": "count", "as": "n"}], "groupby": ["g", "bin"]},
                {"calculate": "(datum.r - (datum.n + 1) / 2) * min(1, 1.15 / max(0.5, (datum.n - 1) / 2))", "as": "off"}
              ],
              "mark": {"type": "circle", "size": 34, "strokeWidth": 1.1, "opacity": 1},
              "encoding": {
                "x": {"field": "g", "type": "nominal", "scale": {"type": "band", "domain": ["HC", "Low", "High"], "range": [0, 86], "paddingInner": 0, "paddingOuter": 0}, "title": null},
                "xOffset": {"field": "off", "type": "quantitative", "scale": {"domain": [-1, 1], "range": [8.3, 20.3], "nice": false, "zero": false}},
                "y": {"field": "v", "type": "quantitative", "scale": {"domain": [0, 100], "nice": false}, "title": "CXCL11 (pg/ml)", "axis": {"values": [0, 20, 40, 60, 80, 100], "format": "d", "titleX": -48, "titleY": 53}},
                "fill": {"field": "group", "type": "nominal", "scale": {"domain": ["Healthy controls", "Low-SAA (≤20 mg/L)", "High-SAA (>20 mg/L)"], "range": ["#ffffff", "#a8a8a8", "#000000"]}, "legend": null},
                "stroke": {"field": "group", "type": "nominal", "scale": {"domain": ["Healthy controls", "Low-SAA (≤20 mg/L)", "High-SAA (>20 mg/L)"], "range": ["#000000", "#a8a8a8", "#000000"]}, "legend": null}
              }
            },
            {
              "data": {"name": "cyt"},
              "transform": [{"filter": "datum.c === 'CXCL11'"}, {"aggregate": [{"op": "median", "field": "v", "as": "med"}], "groupby": ["g"]}],
              "mark": {"type": "tick", "size": 18, "thickness": 1.5},
              "encoding": {
                "x": {"field": "g", "type": "nominal", "scale": {"type": "band", "domain": ["HC", "Low", "High"], "range": [0, 86], "paddingInner": 0, "paddingOuter": 0}, "title": null},
                "y": {"field": "med", "type": "quantitative", "scale": {"domain": [0, 100], "nice": false}, "title": "CXCL11 (pg/ml)", "axis": {"values": [0, 20, 40, 60, 80, 100], "format": "d", "titleX": -48, "titleY": 53}},
                "color": {"field": "g", "type": "nominal", "scale": {"domain": ["HC", "Low", "High"], "range": ["#222222", "#222222", "#d0d0d0"]}, "legend": null}
              }
            },
            {
              "data": {"values": [{"g1": "HC", "g2": "Low", "y": 104.7, "lab": "***", "span": "adj"}, {"g1": "Low", "g2": "High", "y": 104.7, "lab": "*", "span": "adj"}]},
              "mark": {"type": "rule", "strokeWidth": 1.5, "color": "#555555"},
              "encoding": {
                "x": {"field": "g1", "type": "nominal", "bandPosition": 0.55, "scale": {"type": "band", "domain": ["HC", "Low", "High"], "range": [0, 86], "paddingInner": 0, "paddingOuter": 0}, "title": null},
                "x2": {"field": "g2", "bandPosition": 0.48},
                "y": {"field": "y", "type": "quantitative", "scale": {"domain": [0, 100], "nice": false}, "title": "CXCL11 (pg/ml)", "axis": {"values": [0, 20, 40, 60, 80, 100], "format": "d", "titleX": -48, "titleY": 53}}
              }
            },
            {
              "data": {"values": [{"g1": "HC", "g2": "Low", "y": 104.7, "lab": "***", "span": "adj"}, {"g1": "Low", "g2": "High", "y": 104.7, "lab": "*", "span": "adj"}]},
              "mark": {"type": "text", "fontSize": 8, "font": "Liberation Sans", "color": "#555555", "baseline": "alphabetic", "dy": 1},
              "encoding": {
                "x": {"field": "g1", "type": "nominal", "bandPosition": 1, "scale": {"type": "band", "domain": ["HC", "Low", "High"], "range": [0, 86], "paddingInner": 0, "paddingOuter": 0}, "title": null},
                "y": {"field": "y", "type": "quantitative", "scale": {"domain": [0, 100], "nice": false}, "title": "CXCL11 (pg/ml)", "axis": {"values": [0, 20, 40, 60, 80, 100], "format": "d", "titleX": -48, "titleY": 53}},
                "text": {"field": "lab"}
              }
            }
          ]
        },
        {
          "width": 96, "height": 128,
          "layer": [
            {
              "data": {"name": "cyt"},
              "transform": [
                {"filter": "datum.c === 'CXCL10'"},
                {"lookup": "g", "from": {"data": {"name": "groups"}, "key": "g", "fields": ["group"]}},
                {"calculate": "floor(datum.v * 128 / 800 / 6)", "as": "bin"},
                {"window": [{"op": "row_number", "as": "r"}], "groupby": ["g", "bin"], "sort": [{"field": "v", "order": "ascending"}]},
                {"joinaggregate": [{"op": "count", "as": "n"}], "groupby": ["g", "bin"]},
                {"calculate": "(datum.r - (datum.n + 1) / 2) * min(1, 1.15 / max(0.5, (datum.n - 1) / 2))", "as": "off"}
              ],
              "mark": {"type": "circle", "size": 34, "strokeWidth": 1.1, "opacity": 1},
              "encoding": {
                "x": {"field": "g", "type": "nominal", "scale": {"type": "band", "domain": ["HC", "Low", "High"], "range": [0, 86], "paddingInner": 0, "paddingOuter": 0}, "title": null, "axis": {"domainColor": "#c4c4c4", "domainWidth": 2.5}},
                "xOffset": {"field": "off", "type": "quantitative", "scale": {"domain": [-1, 1], "range": [8.3, 20.3], "nice": false, "zero": false}},
                "y": {"field": "v", "type": "quantitative", "scale": {"domain": [0, 800], "nice": false}, "title": "CXCL10 (pg/ml)", "axis": {"values": [0, 200, 400, 600, 800], "format": "d", "titleX": -51, "titleY": 57}},
                "fill": {"field": "group", "type": "nominal", "scale": {"domain": ["Healthy controls", "Low-SAA (≤20 mg/L)", "High-SAA (>20 mg/L)"], "range": ["#ffffff", "#a8a8a8", "#000000"]}, "legend": null},
                "stroke": {"field": "group", "type": "nominal", "scale": {"domain": ["Healthy controls", "Low-SAA (≤20 mg/L)", "High-SAA (>20 mg/L)"], "range": ["#000000", "#a8a8a8", "#000000"]}, "legend": null}
              }
            },
            {
              "data": {"name": "cyt"},
              "transform": [{"filter": "datum.c === 'CXCL10'"}, {"aggregate": [{"op": "median", "field": "v", "as": "med"}], "groupby": ["g"]}],
              "mark": {"type": "tick", "size": 18, "thickness": 1.5},
              "encoding": {
                "x": {"field": "g", "type": "nominal", "scale": {"type": "band", "domain": ["HC", "Low", "High"], "range": [0, 86], "paddingInner": 0, "paddingOuter": 0}, "title": null, "axis": {"domainColor": "#c4c4c4", "domainWidth": 2.5}},
                "y": {"field": "med", "type": "quantitative", "scale": {"domain": [0, 800], "nice": false}, "title": "CXCL10 (pg/ml)", "axis": {"values": [0, 200, 400, 600, 800], "format": "d", "titleX": -51, "titleY": 57}},
                "color": {"field": "g", "type": "nominal", "scale": {"domain": ["HC", "Low", "High"], "range": ["#222222", "#222222", "#d0d0d0"]}, "legend": null}
              }
            },
            {
              "data": {"values": [{"g1": "HC", "g2": "Low", "y": 837, "lab": "*", "span": "adj"}, {"g1": "Low", "g2": "High", "y": 837, "lab": "*", "span": "adj"}]},
              "mark": {"type": "rule", "strokeWidth": 1.5, "color": "#555555"},
              "encoding": {
                "x": {"field": "g1", "type": "nominal", "bandPosition": 0.55, "scale": {"type": "band", "domain": ["HC", "Low", "High"], "range": [0, 86], "paddingInner": 0, "paddingOuter": 0}, "title": null, "axis": {"domainColor": "#c4c4c4", "domainWidth": 2.5}},
                "x2": {"field": "g2", "bandPosition": 0.48},
                "y": {"field": "y", "type": "quantitative", "scale": {"domain": [0, 800], "nice": false}, "title": "CXCL10 (pg/ml)", "axis": {"values": [0, 200, 400, 600, 800], "format": "d", "titleX": -51, "titleY": 57}}
              }
            },
            {
              "data": {"values": [{"g1": "HC", "g2": "Low", "y": 837, "lab": "*", "span": "adj"}, {"g1": "Low", "g2": "High", "y": 837, "lab": "*", "span": "adj"}]},
              "mark": {"type": "text", "fontSize": 8, "font": "Liberation Sans", "color": "#555555", "baseline": "alphabetic", "dy": 1},
              "encoding": {
                "x": {"field": "g1", "type": "nominal", "bandPosition": 1, "scale": {"type": "band", "domain": ["HC", "Low", "High"], "range": [0, 86], "paddingInner": 0, "paddingOuter": 0}, "title": null, "axis": {"domainColor": "#c4c4c4", "domainWidth": 2.5}},
                "y": {"field": "y", "type": "quantitative", "scale": {"domain": [0, 800], "nice": false}, "title": "CXCL10 (pg/ml)", "axis": {"values": [0, 200, 400, 600, 800], "format": "d", "titleX": -51, "titleY": 57}},
                "text": {"field": "lab"}
              }
            }
          ]
        },
        {
          "width": 96, "height": 128,
          "layer": [
            {
              "data": {"name": "cyt"},
              "transform": [
                {"filter": "datum.c === 'CXCL9'"},
                {"lookup": "g", "from": {"data": {"name": "groups"}, "key": "g", "fields": ["group"]}},
                {"calculate": "floor(datum.v * 128 / 1500 / 6)", "as": "bin"},
                {"window": [{"op": "row_number", "as": "r"}], "groupby": ["g", "bin"], "sort": [{"field": "v", "order": "ascending"}]},
                {"joinaggregate": [{"op": "count", "as": "n"}], "groupby": ["g", "bin"]},
                {"calculate": "(datum.r - (datum.n + 1) / 2) * min(1, 1.15 / max(0.5, (datum.n - 1) / 2))", "as": "off"}
              ],
              "mark": {"type": "circle", "size": 34, "strokeWidth": 1.1, "opacity": 1},
              "encoding": {
                "x": {"field": "g", "type": "nominal", "scale": {"type": "band", "domain": ["HC", "Low", "High"], "range": [0, 86], "paddingInner": 0, "paddingOuter": 0}, "title": null, "axis": {"domainColor": "#c4c4c4", "domainWidth": 2.5}},
                "xOffset": {"field": "off", "type": "quantitative", "scale": {"domain": [-1, 1], "range": [8.3, 20.3], "nice": false, "zero": false}},
                "y": {"field": "v", "type": "quantitative", "scale": {"domain": [0, 1500], "nice": false}, "title": "CXCL9 (pg/ml)", "axis": {"values": [0, 500, 1000, 1500], "format": "d", "titleX": -46, "titleY": 57}},
                "fill": {"field": "group", "type": "nominal", "scale": {"domain": ["Healthy controls", "Low-SAA (≤20 mg/L)", "High-SAA (>20 mg/L)"], "range": ["#ffffff", "#a8a8a8", "#000000"]}, "legend": null},
                "stroke": {"field": "group", "type": "nominal", "scale": {"domain": ["Healthy controls", "Low-SAA (≤20 mg/L)", "High-SAA (>20 mg/L)"], "range": ["#000000", "#a8a8a8", "#000000"]}, "legend": null}
              }
            },
            {
              "data": {"name": "cyt"},
              "transform": [{"filter": "datum.c === 'CXCL9'"}, {"aggregate": [{"op": "median", "field": "v", "as": "med"}], "groupby": ["g"]}],
              "mark": {"type": "tick", "size": 18, "thickness": 1.5},
              "encoding": {
                "x": {"field": "g", "type": "nominal", "scale": {"type": "band", "domain": ["HC", "Low", "High"], "range": [0, 86], "paddingInner": 0, "paddingOuter": 0}, "title": null, "axis": {"domainColor": "#c4c4c4", "domainWidth": 2.5}},
                "y": {"field": "med", "type": "quantitative", "scale": {"domain": [0, 1500], "nice": false}, "title": "CXCL9 (pg/ml)", "axis": {"values": [0, 500, 1000, 1500], "format": "d", "titleX": -46, "titleY": 57}},
                "color": {"field": "g", "type": "nominal", "scale": {"domain": ["HC", "Low", "High"], "range": ["#222222", "#222222", "#d0d0d0"]}, "legend": null}
              }
            },
            {
              "data": {"values": [{"g1": "HC", "g2": "High", "y": 1758, "lab": "*", "span": "wide"}, {"g1": "Low", "g2": "High", "y": 1570, "lab": "*", "span": "adj"}]},
              "mark": {"type": "rule", "strokeWidth": 1.5, "color": "#555555"},
              "encoding": {
                "x": {"field": "g1", "type": "nominal", "bandPosition": 0.55, "scale": {"type": "band", "domain": ["HC", "Low", "High"], "range": [0, 86], "paddingInner": 0, "paddingOuter": 0}, "title": null, "axis": {"domainColor": "#c4c4c4", "domainWidth": 2.5}},
                "x2": {"field": "g2", "bandPosition": 0.48},
                "y": {"field": "y", "type": "quantitative", "scale": {"domain": [0, 1500], "nice": false}, "title": "CXCL9 (pg/ml)", "axis": {"values": [0, 500, 1000, 1500], "format": "d", "titleX": -46, "titleY": 57}}
              }
            },
            {
              "data": {"values": [{"g1": "Low", "g2": "High", "y": 1570, "lab": "*", "span": "adj"}]},
              "mark": {"type": "text", "fontSize": 8, "font": "Liberation Sans", "color": "#555555", "baseline": "alphabetic", "dy": 1},
              "encoding": {
                "x": {"field": "g1", "type": "nominal", "bandPosition": 1, "scale": {"type": "band", "domain": ["HC", "Low", "High"], "range": [0, 86], "paddingInner": 0, "paddingOuter": 0}, "title": null, "axis": {"domainColor": "#c4c4c4", "domainWidth": 2.5}},
                "y": {"field": "y", "type": "quantitative", "scale": {"domain": [0, 1500], "nice": false}, "title": "CXCL9 (pg/ml)", "axis": {"values": [0, 500, 1000, 1500], "format": "d", "titleX": -46, "titleY": 57}},
                "text": {"field": "lab"}
              }
            },
            {
              "data": {"values": [{"g1": "HC", "g2": "High", "y": 1758, "lab": "*", "span": "wide"}]},
              "mark": {"type": "text", "fontSize": 8, "font": "Liberation Sans", "color": "#555555", "baseline": "alphabetic", "dy": 1},
              "encoding": {
                "x": {"field": "g1", "type": "nominal", "bandPosition": 1.5, "scale": {"type": "band", "domain": ["HC", "Low", "High"], "range": [0, 86], "paddingInner": 0, "paddingOuter": 0}, "title": null, "axis": {"domainColor": "#c4c4c4", "domainWidth": 2.5}},
                "y": {"field": "y", "type": "quantitative", "scale": {"domain": [0, 1500], "nice": false}, "title": "CXCL9 (pg/ml)", "axis": {"values": [0, 500, 1000, 1500], "format": "d", "titleX": -46, "titleY": 57}},
                "text": {"field": "lab"}
              }
            }
          ]
        }
      ],
      "spacing": 116,
      "bounds": "flush"
    }
  ],
  "config": {
    "view": {"stroke": null},
    "axisY": {
      "domainColor": "#808080", "domainWidth": 1.5, "tickColor": "#808080", "tickWidth": 1.5, "tickSize": 3,
      "labelFont": "DejaVu Sans", "labelFontSize": 10.5, "labelColor": "#444444", "labelPadding": 3,
      "labelOverlap": false, "labelBound": false, "labelFlush": false,
      "titleFont": "DejaVu Sans", "titleFontSize": 13.5, "titleFontWeight": "normal", "titleColor": "#333333",
      "titleBaseline": "middle", "titleAlign": "center", "grid": false
    },
    "axisX": {
      "domainColor": "#707070", "domainWidth": 1.5, "ticks": false, "labels": false, "grid": false
    },
    "legend": {
      "symbolType": "circle", "symbolSize": 80, "symbolStrokeWidth": 1.3,
      "labelFont": "Liberation Sans", "labelFontSize": 10, "labelColor": "#333333",
      "rowPadding": 2, "labelOffset": 9, "padding": 0
    }
  }
}
